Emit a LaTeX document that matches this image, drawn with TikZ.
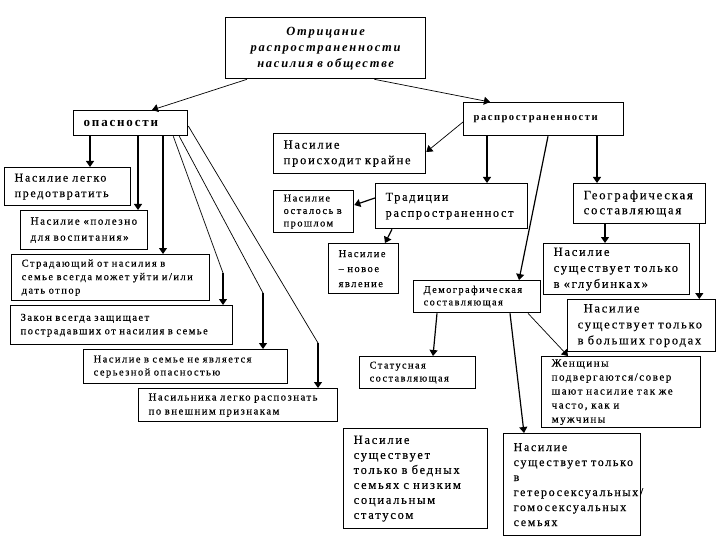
\documentclass[tikz,border=0pt]{standalone}
\usepackage{fontspec}
\setmainfont{Liberation Serif}[LetterSpace=14, UprightFeatures={FakeBold=0.3}]
\usepackage{tikz}
\usetikzlibrary{arrows.meta, calc, positioning}

\tikzset{
  box/.style={draw, line width=1.3pt, anchor=north west, align=left, inner xsep=10pt, inner ysep=2pt, font=\fontsize{12.5}{15.5}\selectfont},
  smallbox/.style={box, font=\fontsize{10.5}{13.5}\selectfont},
  headbox/.style={box, font=\bfseries\fontsize{13}{15}\selectfont},
  arr/.style={line width=1.2pt, -{Triangle[width=8pt,length=6pt]}},
  thinarr/.style={line width=0.7pt, -{Triangle[width=8pt,length=6pt]}},
  thinline/.style={line width=0.7pt},
}

\begin{document}
\begin{tikzpicture}[x=1pt, y=-1pt]
  \useasboundingbox (0,0) rectangle (720,540);

  % top
  \node[box, align=center, text width=180pt, minimum height=61pt, font=\bfseries\itshape\fontsize{12.5}{16}\selectfont] (root) at (225,17) {Отрицание\\распространенности\\насилия в обществе};
  \node[headbox, text width=94pt, minimum height=25pt] (danger) at (73,110) {опасности};
  \node[headbox, text width=140pt, minimum height=33pt, font=\bfseries\fontsize{10.6}{12}\selectfont] (prev) at (463,102) {распространенности};

  % left column
  \node[box, text width=106pt, minimum height=38pt, font=\fontsize{12}{15.5}\selectfont] (easy) at (4,167) {Насилие~легко\\предотвратить};
  \node[smallbox, text width=107pt, minimum height=39pt, font=\fontsize{11}{16}\selectfont] (useful) at (20,210) {Насилие~«полезно\\для~воспитания»};
  \node[smallbox, text width=178pt, minimum height=46pt] (leave) at (11,254) {Страдающий~от~насилия~в\\семье~всегда~может~уйти~и/или\\дать~отпор};
  \node[smallbox, text width=202pt, minimum height=39pt] (law) at (10,305) {Закон~всегда~защищает\\пострадавших~от~насилия~в~семье};
  \node[smallbox, text width=184pt, minimum height=34pt, font=\fontsize{10.5}{13}\selectfont] (notdanger) at (83,349) {Насилие~в~семье~не~является\\серьезной~опасностью};
  \node[smallbox, text width=179pt, minimum height=33pt, font=\fontsize{10.7}{14}\selectfont] (recognize) at (138,388) {Насильника~легко~распознать\\по~внешним~признакам};

  % middle
  \node[box, text width=132pt, minimum height=40pt] (extreme) at (273,133) {Насилие\\происходит~крайне};
  \node[smallbox, text width=60pt, minimum height=42pt, font=\fontsize{10.4}{12.5}\selectfont] (past) at (273,190) {Насилие\\осталось~в\\прошлом};
  \node[box, text width=132pt, minimum height=45pt, font=\fontsize{12.2}{16}\selectfont] (trad) at (375,183) {Традиции\\распространенност};
  \node[smallbox, text width=50pt, minimum height=50pt, font=\fontsize{10.5}{15}\selectfont] (new) at (328,243) {Насилие\\–~новое\\явление};
  \node[smallbox, text width=107pt, minimum height=32pt, font=\fontsize{10.3}{12.5}\selectfont] (demo) at (413,280) {Демографическая\\составляющая};
  \node[smallbox, text width=96pt, minimum height=32pt, font=\fontsize{10.3}{13}\selectfont] (status) at (359,356) {Статусная\\составляющая};
  \node[box, text width=124pt, minimum height=100pt, font=\fontsize{12.5}{15}\selectfont] (poor) at (343,428) {Насилие\\существует\\только~в~бедных\\семьях~с~низким\\социальным\\статусом};
  \node[box, text width=117pt, minimum height=102pt, font=\fontsize{12}{15}\selectfont] (hetero) at (503,433) {Насилие\\существует~только\\в\\гетеросексуальных/\\гомосексуальных\\семьях};

  % right
  \node[box, text width=112pt, minimum height=40pt, font=\fontsize{12.7}{15}\selectfont] (geo) at (573,183) {Географическая\\составляющая};
  \node[box, text width=126pt, minimum height=51pt, font=\fontsize{12.5}{16}\selectfont] (deep) at (543,243) {Насилие\\существует~только\\в~«глубинках»};
  \node[box, text width=128pt, minimum height=52pt, font=\fontsize{12.5}{16}\selectfont] (city) at (567,299) {\hspace*{6pt}Насилие\\существует~только\\в~больших~городах};
  \node[smallbox, text width=139pt, minimum height=71pt, font=\fontsize{11}{14}\selectfont] (women) at (541,356) {Женщины\\подвергаются/совер\\шают~насилие~так~же\\часто,~как~и\\мужчины};

  % points on the boxes
  \coordinate (r1) at ([xshift=22pt]root.south west);
  \coordinate (r2) at ([xshift=-52pt]root.south east);
  \coordinate (d1) at ([xshift=17pt]danger.south west);
  \coordinate (d2) at ([xshift=65pt]danger.south west);
  \coordinate (d3) at ([xshift=90pt]danger.south west);
  \coordinate (d4) at ([xshift=-15pt]danger.south east);
  \coordinate (d5) at ([xshift=-9pt]danger.south east);
  \coordinate (d6) at ([yshift=-16pt]danger.north east);
  \coordinate (p1) at ([yshift=-20pt]prev.north west);
  \coordinate (p2) at ([xshift=24pt]prev.south west);
  \coordinate (p3) at ([xshift=85pt]prev.south west);
  \coordinate (p4) at ([xshift=134pt]prev.south west);
  \coordinate (g1) at ([xshift=32pt]geo.south west);
  \coordinate (g2) at ([xshift=-7pt]geo.south east);
  \coordinate (m1) at ([xshift=24pt]demo.south west);
  \coordinate (m2) at ([xshift=97pt]demo.south west);
  \coordinate (m3) at ([xshift=115pt]demo.south west);

  % bends
  \coordinate (b1) at (223,273);
  \coordinate (b2) at (263,293);
  \coordinate (b3) at (318,343);

  % arrows
  \draw[thinarr] (r1) -- ([xshift=79pt]danger.north west);
  \draw[thinarr] (r2) -- ([xshift=27pt]prev.north west);
  \draw[arr] (d1) -- (d1 |- easy.north);
  \draw[arr] (d2) -- (d2 |- useful.north);
  \draw[arr] (d3) -- (d3 |- leave.north);
  \draw[thinline] (d4) -- (b1);
  \draw[arr] (b1) -- (b1 |- law.north);
  \draw[thinline] (d5) -- (b2);
  \draw[arr] (b2) -- (b2 |- notdanger.north);
  \draw[thinline] (d6) -- (b3);
  \draw[arr] (b3) -- (b3 |- recognize.north);
  \draw[thinarr] (p1) -- ([yshift=-19pt]extreme.north east);
  \draw[arr] (p2) -- (p2 |- trad.north);
  \draw[arr] (p4) -- (p4 |- geo.north);
  \draw[arr] (p3) -- ([xshift=106pt]demo.north west);
  \draw[arr] ([yshift=-15pt]trad.north west) -- ([yshift=-15pt]past.north east);
  \draw[arr] ([xshift=17pt]trad.south west) -- ([xshift=57pt]new.north west);
  \draw[arr] (g1) -- (g1 |- deep.north);
  \draw[arr] (g2) -- (g2 |- city.north);
  \draw[arr] (m1) -- ([xshift=74pt]status.north west);
  \draw[arr] (m2) -- ([xshift=21pt]hetero.north west);
  \draw[thinarr] (m3) -- ([xshift=27pt]women.north west);
\end{tikzpicture}
\end{document}
